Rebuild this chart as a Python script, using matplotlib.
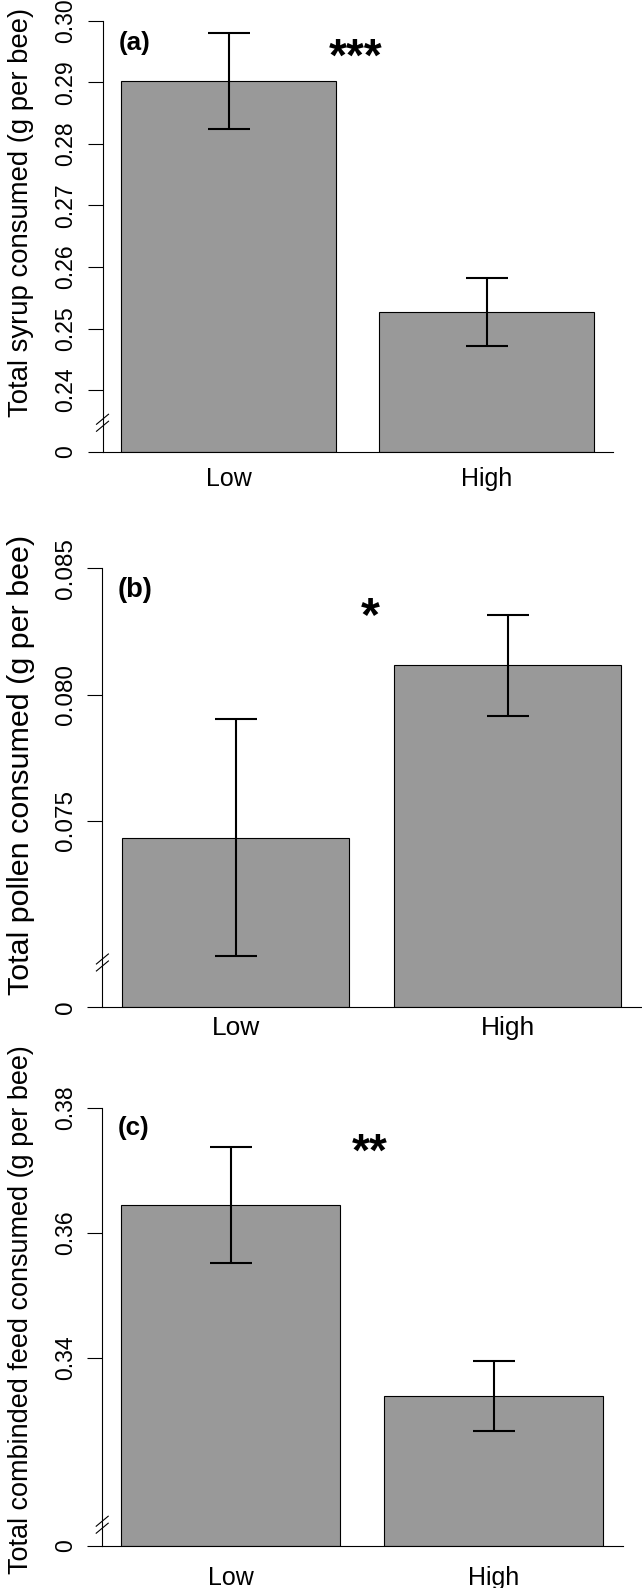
import numpy as np
import matplotlib
matplotlib.use('Agg')
import matplotlib.pyplot as plt
from matplotlib.lines import Line2D
from matplotlib.transforms import IdentityTransform

plt.rcParams['font.family'] = ['Liberation Sans', 'DejaVu Sans']

# data
groups = ['Low', 'High']

syrup_mean = [0.2902, 0.2527]
syrup_se = [0.0078, 0.0055]
syrup_ticks = [0.24, 0.25, 0.26, 0.27, 0.28, 0.29, 0.30]
syrup_labels = ['0.24', '0.25', '0.26', '0.27', '0.28', '0.29', '0.30']
syrup_base = 0.23

pollen_mean = [0.07434, 0.08116]
pollen_se = [0.0047, 0.0020]
pollen_ticks = [0.075, 0.080, 0.085]
pollen_labels = ['0.075', '0.080', '0.085']
pollen_base = 0.06765

feed_mean = [0.3645, 0.3340]
feed_se = [0.0093, 0.0056]
feed_ticks = [0.34, 0.36, 0.38]
feed_labels = ['0.34', '0.36', '0.38']
feed_base = 0.31

W, H = 642, 1588
fig = plt.figure(figsize=(W / 100, H / 100), dpi=100)
PT = 0.72  # px -> pt at 100 dpi


def panel(box, mean, se, base, ticks, labels, brk, letter, letter_xy,
          stars, stars_xy, ylabel, ylabel_xy, s, xpad, ylab_px):
    left, right, top, bottom = box
    ax = fig.add_axes([left / W, 1 - bottom / H, (right - left) / W, (bottom - top) / H])
    x = [0.7, 1.9]
    ax.bar(x, np.array(mean) - base, bottom=base, width=1.0, color='#999999',
           edgecolor='black', linewidth=0.8, zorder=2)
    ax.errorbar(x, mean, yerr=se, fmt='none', ecolor='black', elinewidth=1.5,
                capsize=14.8, capthick=1.5, zorder=3)
    ax.set_xlim(0.112, 2.488)
    ax.set_ylim(base, ticks[-1])
    ax.spines['top'].set_visible(False)
    ax.spines['right'].set_visible(False)
    ax.spines['left'].set_linewidth(0.8)
    ax.spines['bottom'].set_linewidth(0.8)
    ax.set_yticks([base] + ticks)
    ax.set_yticklabels(['0'] + labels)
    ax.tick_params(axis='y', length=15 * PT, width=0.8, pad=10 * PT,
                   labelsize=23 * PT * s)
    for lab in ax.get_yticklabels():
        lab.set_rotation(90)
        lab.set_va('center')
    ax.set_xticks(x)
    ax.set_xticklabels(groups)
    ax.tick_params(axis='x', length=0, pad=xpad * PT, labelsize=25 * PT * s)

    # axis break marks
    px, py = ax.transData.transform((0.112, brk))
    for off in (-3.5, 3.5):
        fig.add_artist(Line2D([px - 6, px + 6], [py + off - 5, py + off + 5],
                              color='black', linewidth=0.8,
                              transform=IdentityTransform()))

    ax.text(letter_xy[0], letter_xy[1], letter, fontweight='bold', ha='left',
            va='center', fontsize=26 * PT * s)
    ax.text(stars_xy[0], stars_xy[1], stars, fontweight='bold', ha='center',
            va='baseline', fontsize=46 * PT * s)
    fig.text(ylabel_xy[0] / W, 1 - ylabel_xy[1] / H, ylabel, rotation=90,
             ha='center', va='center', fontsize=ylab_px * PT)
    return ax


panel((102.5, 613.4, 20.7, 451.7), syrup_mean, syrup_se, syrup_base,
      syrup_ticks, syrup_labels, 0.2347, '(a)', (0.189, 0.2964),
      '***', (1.29, 0.2919), 'Total syrup consumed (g per bee)', (21, 212),
      1.0, 15, 27.5)

panel((102.4, 641.0, 568.3, 1006.7), pollen_mean, pollen_se, pollen_base,
      pollen_ticks, pollen_labels, 0.0694, '(b)', (0.18, 0.08414),
      '*', (1.292, 0.08254), 'Total pollen consumed (g per bee)', (21, 765),
      1.054, 9, 30.5)

panel((102.2, 622.6, 1107.7, 1546.0), feed_mean, feed_se, feed_base,
      feed_ticks, feed_labels, 0.3134, '(c)', (0.183, 0.3768),
      '**', (1.335, 0.3707), 'Total combinded feed consumed (g per bee)',
      (21, 1310), 1.0, 20, 27)

fig.savefig('out.png', dpi=100)
